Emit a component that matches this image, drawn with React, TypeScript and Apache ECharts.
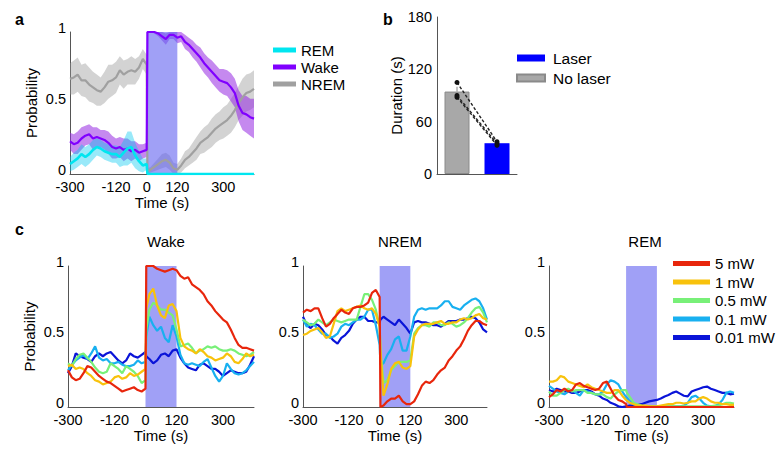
import React, { useEffect, useRef } from 'react';
import * as echarts from 'echarts';

// time grid (s), laser window
const T = [-300,-285,-270,-255,-240,-225,-210,-195,-180,-165,-150,-135,-120,-105,-90,-75,-60,-45,-30,-15,0,3,15,30,45,60,75,90,105,120,135,150,165,180,195,210,225,240,255,270,285,300,315,330,345,360,375,390,405,420];
const laserWindow = [0, 120];
const xTickLabels = [-300, -120, 0, 120, 300];

// panel a: mean +/- sem
const wakeMean = [0.23,0.21,0.22,0.25,0.27,0.28,0.25,0.26,0.25,0.24,0.22,0.19,0.18,0.19,0.17,0.18,0.16,0.17,0.15,0.16,0.17,1.0,1.0,1.0,0.99,0.97,0.95,0.98,0.98,0.96,0.97,0.93,0.91,0.88,0.85,0.82,0.78,0.75,0.72,0.69,0.66,0.65,0.64,0.61,0.57,0.48,0.43,0.42,0.40,0.39];
const wakeSem = [0.06,0.07,0.08,0.08,0.07,0.07,0.08,0.07,0.06,0.07,0.08,0.08,0.07,0.07,0.08,0.07,0.07,0.06,0.06,0.05,0.05,0.01,0.0,0.01,0.02,0.03,0.04,0.03,0.03,0.04,0.04,0.05,0.05,0.06,0.06,0.07,0.07,0.07,0.08,0.08,0.08,0.09,0.09,0.1,0.1,0.11,0.12,0.13,0.13,0.14];
const nremMean = [0.67,0.68,0.70,0.66,0.66,0.63,0.61,0.59,0.58,0.61,0.65,0.66,0.68,0.73,0.70,0.72,0.73,0.72,0.75,0.81,0.77,0.02,0.03,0.05,0.07,0.09,0.10,0.08,0.04,0.03,0.06,0.10,0.12,0.15,0.18,0.22,0.24,0.26,0.29,0.32,0.34,0.36,0.38,0.41,0.45,0.50,0.54,0.57,0.58,0.60];
const nremSem = [0.11,0.12,0.12,0.11,0.12,0.12,0.11,0.11,0.10,0.11,0.12,0.11,0.11,0.10,0.10,0.09,0.10,0.09,0.08,0.07,0.07,0.02,0.02,0.03,0.04,0.05,0.05,0.05,0.04,0.04,0.05,0.06,0.06,0.07,0.08,0.08,0.09,0.09,0.1,0.1,0.1,0.11,0.11,0.12,0.12,0.12,0.13,0.13,0.13,0.13];
const remMean = [0.07,0.09,0.11,0.14,0.12,0.14,0.17,0.19,0.18,0.16,0.15,0.14,0.14,0.12,0.15,0.18,0.19,0.13,0.09,0.06,0.07,0,0,0,0,0,0,0,0,0,0,0,0,0,0,0,0,0,0,0,0,0,0,0,0,0,0,0,0,0];
const remSem = [0.05,0.06,0.06,0.07,0.07,0.07,0.07,0.06,0.06,0.06,0.06,0.06,0.06,0.07,0.09,0.12,0.11,0.09,0.07,0.05,0.04,0,0,0,0,0,0,0,0,0,0,0,0,0,0,0,0,0,0,0,0,0,0,0,0,0,0,0,0,0];

// panel b
const barCategories = ['No laser', 'Laser'];
const barNoLaser = 94.5;
const barLaser = 35.3;
const barNoLaserErr = 5.5;
const pairsNoLaser = [105, 90, 88];
const pairsLaser = [37, 35, 33];

// panel c: laser power series
const powerNames = ['5 mW', '1 mW', '0.5 mW', '0.1 mW', '0.01 mW'];
const wake5 = [0.26,0.21,0.19,0.20,0.24,0.29,0.28,0.25,0.22,0.20,0.18,0.17,0.15,0.13,0.11,0.12,0.13,0.14,0.12,0.11,0.13,1.0,1.0,1.0,0.98,0.97,0.96,0.97,0.98,0.97,0.93,0.91,0.92,0.87,0.85,0.83,0.80,0.75,0.72,0.68,0.65,0.62,0.60,0.55,0.49,0.44,0.42,0.42,0.41,0.40];
const wake1 = [0.29,0.30,0.27,0.28,0.27,0.24,0.22,0.19,0.18,0.16,0.17,0.18,0.21,0.22,0.20,0.21,0.24,0.22,0.23,0.25,0.27,0.70,0.80,0.84,0.72,0.65,0.63,0.72,0.73,0.68,0.49,0.43,0.41,0.40,0.38,0.41,0.39,0.36,0.35,0.33,0.34,0.35,0.38,0.36,0.32,0.31,0.34,0.38,0.36,0.37];
const wake05 = [0.31,0.29,0.34,0.37,0.38,0.35,0.32,0.28,0.25,0.24,0.25,0.31,0.29,0.27,0.24,0.29,0.27,0.25,0.22,0.17,0.19,0.55,0.69,0.74,0.72,0.69,0.69,0.67,0.65,0.55,0.43,0.44,0.45,0.42,0.38,0.40,0.41,0.43,0.42,0.43,0.41,0.40,0.40,0.41,0.40,0.38,0.37,0.36,0.37,0.39];
const wake01 = [0.26,0.30,0.33,0.35,0.37,0.34,0.38,0.43,0.35,0.33,0.34,0.31,0.31,0.32,0.30,0.29,0.29,0.30,0.33,0.31,0.32,0.50,0.64,0.58,0.54,0.57,0.49,0.46,0.58,0.50,0.37,0.31,0.30,0.31,0.30,0.29,0.32,0.34,0.28,0.22,0.18,0.22,0.31,0.27,0.24,0.23,0.24,0.26,0.29,0.32];
const wake001 = [0.24,0.29,0.38,0.36,0.35,0.34,0.32,0.36,0.38,0.36,0.38,0.39,0.36,0.33,0.31,0.33,0.38,0.36,0.35,0.37,0.39,0.36,0.34,0.31,0.33,0.37,0.38,0.36,0.40,0.41,0.35,0.31,0.28,0.27,0.26,0.30,0.31,0.29,0.27,0.27,0.25,0.22,0.24,0.26,0.25,0.24,0.24,0.25,0.30,0.36];
const nrem5 = [0.67,0.69,0.68,0.70,0.70,0.63,0.57,0.59,0.63,0.66,0.69,0.67,0.66,0.70,0.71,0.71,0.72,0.74,0.81,0.83,0.78,0.0,0.01,0.04,0.06,0.06,0.08,0.04,0.02,0.02,0.04,0.09,0.15,0.18,0.17,0.19,0.23,0.26,0.28,0.33,0.36,0.40,0.43,0.48,0.54,0.58,0.61,0.61,0.59,0.58];
const nrem1 = [0.51,0.52,0.54,0.55,0.56,0.53,0.49,0.50,0.59,0.68,0.70,0.68,0.69,0.70,0.71,0.72,0.70,0.69,0.70,0.66,0.57,0.40,0.08,0.16,0.27,0.31,0.32,0.28,0.27,0.29,0.50,0.55,0.58,0.59,0.59,0.59,0.60,0.61,0.59,0.59,0.60,0.60,0.62,0.63,0.62,0.63,0.65,0.66,0.63,0.62];
const nrem05 = [0.62,0.60,0.58,0.59,0.62,0.60,0.58,0.60,0.62,0.61,0.60,0.61,0.62,0.62,0.62,0.71,0.80,0.80,0.76,0.69,0.57,0.40,0.17,0.19,0.26,0.29,0.32,0.32,0.32,0.33,0.52,0.56,0.58,0.58,0.57,0.60,0.60,0.58,0.58,0.60,0.59,0.57,0.58,0.60,0.63,0.67,0.70,0.71,0.67,0.60];
const nrem01 = [0.62,0.57,0.59,0.58,0.55,0.52,0.52,0.49,0.50,0.52,0.57,0.59,0.58,0.60,0.62,0.62,0.64,0.69,0.69,0.58,0.44,0.30,0.31,0.37,0.41,0.48,0.50,0.40,0.40,0.50,0.64,0.69,0.70,0.69,0.70,0.70,0.70,0.72,0.75,0.75,0.71,0.70,0.69,0.72,0.74,0.76,0.77,0.75,0.70,0.62];
const nrem001 = [0.64,0.58,0.56,0.59,0.58,0.55,0.51,0.50,0.47,0.45,0.49,0.51,0.54,0.59,0.62,0.64,0.64,0.61,0.61,0.60,0.60,0.62,0.64,0.62,0.60,0.58,0.62,0.59,0.56,0.52,0.60,0.61,0.60,0.60,0.59,0.58,0.58,0.57,0.59,0.61,0.61,0.61,0.62,0.62,0.63,0.64,0.63,0.60,0.55,0.53];
const rem5 = [0.07,0.09,0.12,0.11,0.13,0.11,0.12,0.16,0.17,0.15,0.14,0.13,0.12,0.13,0.17,0.18,0.13,0.08,0.05,0.04,0.02,0,0,0,0,0,0,0,0,0,0,0,0,0,0,0,0,0,0,0,0,0,0,0,0,0,0,0,0,0];
const rem1 = [0.18,0.18,0.19,0.22,0.21,0.18,0.17,0.16,0.15,0.14,0.16,0.14,0.13,0.12,0.11,0.10,0.10,0.12,0.12,0.08,0.05,0.045,0.03,0.02,0.01,0.01,0.01,0.005,0.005,0.005,0.01,0.015,0.02,0.02,0.03,0.03,0.025,0.03,0.04,0.04,0.06,0.07,0.06,0.04,0.03,0.03,0.02,0.02,0.015,0.015];
const rem05 = [0.11,0.08,0.08,0.10,0.12,0.13,0.11,0.12,0.12,0.12,0.10,0.10,0.09,0.09,0.09,0.07,0.06,0.09,0.11,0.12,0.12,0.10,0.07,0.03,0.02,0.01,0.005,0.005,0.005,0.005,0.005,0.005,0.005,0.005,0.005,0.005,0.005,0.005,0.005,0.005,0.005,0.005,0.005,0.005,0.01,0.01,0.02,0.03,0.03,0.025];
const rem01 = [0.15,0.13,0.11,0.10,0.09,0.11,0.12,0.10,0.08,0.12,0.11,0.10,0.09,0.09,0.11,0.16,0.19,0.18,0.16,0.11,0.07,0.065,0.04,0.02,0.01,0.005,0.005,0.005,0.005,0.005,0.005,0.005,0.005,0.005,0.005,0.005,0.01,0.03,0.07,0.08,0.06,0.03,0.01,0.005,0.005,0.02,0.05,0.10,0.11,0.10];
const rem001 = [0.12,0.11,0.13,0.12,0.11,0.11,0.10,0.10,0.11,0.12,0.12,0.11,0.09,0.08,0.06,0.05,0.03,0.02,0.005,0.0,0.005,0.005,0.01,0.01,0.015,0.02,0.03,0.04,0.045,0.05,0.06,0.075,0.085,0.10,0.11,0.095,0.08,0.075,0.11,0.12,0.13,0.14,0.145,0.13,0.12,0.11,0.10,0.10,0.09,0.095];

const FONT = "'Liberation Sans', Arial, Helvetica, sans-serif";
const stateColors = { REM: '#00e6f0', Wake: '#8000ff', NREM: '#a0a0a0' };
const bandColors = { REM: 'rgba(0,200,240,0.4)', Wake: 'rgba(150,40,225,0.55)', NREM: 'rgba(150,150,150,0.42)' };
const powerColors = ['#e8260c', '#f8c20c', '#78f078', '#18b0f0', '#0a14d8'];
const laserColor = 'rgba(97,97,240,0.6)';

const grids = [
  { left: 70, top: 32, width: 184, height: 142 },
  { left: 437, top: 17, width: 80, height: 157 },
  { left: 68, top: 266, width: 186, height: 141 },
  { left: 303, top: 266, width: 184, height: 141 },
  { left: 549, top: 266, width: 185, height: 141 },
];

const axisLine = { show: true, lineStyle: { color: '#555', width: 1 } };
const tickText = { color: '#000', fontSize: 14.5, fontFamily: FONT };

function timeAxis(gi: number, named: boolean) {
  return {
    type: 'value', gridIndex: gi, min: -300, max: 420, interval: 60,
    axisLine: { ...axisLine, onZero: false }, axisTick: { show: false }, splitLine: { show: false },
    axisLabel: { ...tickText, margin: 5, formatter: (v: number) => (xTickLabels.indexOf(v) >= 0 ? String(v) : '') },
    name: named ? 'Time (s)' : '', nameLocation: 'middle', nameGap: 14,
    nameTextStyle: { color: '#000', fontSize: 15, fontFamily: FONT },
  };
}
function probAxis(gi: number, named: boolean) {
  return {
    type: 'value', gridIndex: gi, min: 0, max: 1, interval: 0.5,
    axisLine: { ...axisLine, onZero: false }, axisTick: { show: false }, splitLine: { show: false },
    axisLabel: { ...tickText, margin: 4, verticalAlign: 'bottom', lineHeight: 9 },
    name: named ? 'Probability' : '', nameLocation: 'middle', nameGap: 31,
    nameTextStyle: { color: '#000', fontSize: 15, fontFamily: FONT },
  };
}

function laserSeries(gi: number) {
  return {
    type: 'custom', xAxisIndex: gi, yAxisIndex: gi, z: 2, silent: true,
    data: [[laserWindow[0], laserWindow[1]]],
    renderItem: (_p: any, api: any) => {
      const p0 = api.coord([api.value(0), 1]);
      const p1 = api.coord([api.value(1), 0]);
      return { type: 'rect', shape: { x: p0[0], y: p0[1], width: p1[0] - p0[0], height: p1[1] - p0[1] }, style: { fill: laserColor } };
    },
  };
}

function bandSeries(gi: number, mean: number[], sem: number[], color: string) {
  return {
    type: 'custom', xAxisIndex: gi, yAxisIndex: gi, z: 1, silent: true,
    data: [[0, 0]],
    renderItem: (_p: any, api: any) => {
      const upper = T.map((t, i) => api.coord([t, Math.min(1, mean[i] + sem[i])]));
      const lower = T.map((t, i) => api.coord([t, Math.max(0, mean[i] - sem[i])])).reverse();
      return { type: 'polygon', shape: { points: upper.concat(lower) }, style: { fill: color } };
    },
  };
}

function lineSeries(gi: number, name: string, values: number[], color: string, width = 2) {
  return {
    type: 'line', name, xAxisIndex: gi, yAxisIndex: gi, z: 3, silent: true,
    data: T.map((t, i) => [t, values[i]]),
    showSymbol: false, symbol: 'none', color,
    lineStyle: { color, width },
  };
}

export default function App() {
  const ref = useRef<HTMLDivElement>(null);
  useEffect(() => {
    const chart = echarts.init(ref.current!, null, { renderer: 'svg' });
    const wakeSets = [wake5, wake1, wake05, wake01, wake001];
    const nremSets = [nrem5, nrem1, nrem05, nrem01, nrem001];
    const remSets = [rem5, rem1, rem05, rem01, rem001];
    const powerSeries: any[] = [];
    [wakeSets, nremSets, remSets].forEach((sets, k) => {
      const gi = k + 2;
      powerSeries.push(laserSeries(gi));
      for (let j = sets.length - 1; j >= 0; j--) {
        powerSeries.push(lineSeries(gi, powerNames[j], sets[j], powerColors[j], 2.2));
      }
    });

    const option: any = {
      animation: false,
      textStyle: { fontFamily: FONT },
      title: [
        { text: 'a', left: 10, top: 6, textStyle: { fontSize: 16, fontWeight: 'bold', color: '#000', fontFamily: FONT } },
        { text: 'b', left: 378, top: 6, textStyle: { fontSize: 16, fontWeight: 'bold', color: '#000', fontFamily: FONT } },
        { text: 'c', left: 10, top: 216, textStyle: { fontSize: 16, fontWeight: 'bold', color: '#000', fontFamily: FONT } },
        { text: 'Wake', left: 161, top: 229, textAlign: 'center', textStyle: { fontSize: 15, fontWeight: 'normal', color: '#000', fontFamily: FONT } },
        { text: 'NREM', left: 395, top: 229, textAlign: 'center', textStyle: { fontSize: 15, fontWeight: 'normal', color: '#000', fontFamily: FONT } },
        { text: 'REM', left: 640, top: 229, textAlign: 'center', textStyle: { fontSize: 15, fontWeight: 'normal', color: '#000', fontFamily: FONT } },
      ],
      legend: [
        {
          data: ['REM', 'Wake', 'NREM'], orient: 'vertical', left: 273, top: 42.5, padding: 0,
          itemWidth: 23, itemHeight: 5, itemGap: 2, icon: 'rect', selectedMode: false,
          textStyle: { fontSize: 15, color: '#000', fontFamily: FONT },
        },
        {
          data: ['Laser', 'No laser'], orient: 'vertical', left: 516, top: 50, padding: 0,
          itemWidth: 28, itemHeight: 7, itemGap: 4, icon: 'rect', selectedMode: false,
          textStyle: { fontSize: 15.5, color: '#000', fontFamily: FONT, padding: [0, 0, 0, 3] },
        },
        {
          data: powerNames, orient: 'vertical', left: 673, top: 256, padding: 0,
          itemWidth: 37, itemHeight: 5, itemGap: 3.5, icon: 'rect', selectedMode: false,
          textStyle: { fontSize: 15, color: '#000', fontFamily: FONT },
        },
      ],
      grid: grids,
      xAxis: [
        timeAxis(0, true),
        {
          type: 'category', gridIndex: 1, data: barCategories,
          axisLine: { ...axisLine }, axisTick: { show: false }, axisLabel: { show: false },
        },
        timeAxis(2, true),
        timeAxis(3, true),
        timeAxis(4, true),
      ],
      yAxis: [
        probAxis(0, true),
        {
          type: 'value', gridIndex: 1, min: 0, max: 180, interval: 60,
          axisLine: { ...axisLine, onZero: false }, axisTick: { show: false }, splitLine: { show: false },
          axisLabel: { ...tickText, margin: 5 },
          name: 'Duration (s)', nameLocation: 'middle', nameGap: 33,
          nameTextStyle: { color: '#000', fontSize: 15, fontFamily: FONT },
        },
        probAxis(2, true),
        probAxis(3, false),
        probAxis(4, false),
      ],
      series: [
        bandSeries(0, nremMean, nremSem, bandColors.NREM),
        bandSeries(0, wakeMean, wakeSem, bandColors.Wake),
        bandSeries(0, remMean, remSem, bandColors.REM),
        laserSeries(0),
        lineSeries(0, 'NREM', nremMean, stateColors.NREM, 2.2),
        lineSeries(0, 'Wake', wakeMean, stateColors.Wake, 2.2),
        lineSeries(0, 'REM', remMean, stateColors.REM, 2.6),
        {
          type: 'bar', name: 'No laser', xAxisIndex: 1, yAxisIndex: 1, barWidth: 25, barGap: '-100%',
          data: [barNoLaser, '-'], color: '#a8a8a8',
          itemStyle: { color: '#a8a8a8', borderColor: '#8a8a8a', borderWidth: 1 }, silent: true,
        },
        {
          type: 'bar', name: 'Laser', xAxisIndex: 1, yAxisIndex: 1, barWidth: 25, barGap: '-100%',
          data: ['-', barLaser], color: '#0000ff',
          itemStyle: { color: '#0000ff' }, silent: true,
        },
        {
          type: 'custom', xAxisIndex: 1, yAxisIndex: 1, z: 3, silent: true,
          data: [[0, barNoLaser, barNoLaser + barNoLaserErr]],
          renderItem: (_p: any, api: any) => {
            const a = api.coord([api.value(0), api.value(1)]);
            const b = api.coord([api.value(0), api.value(2)]);
            return { type: 'line', shape: { x1: a[0], y1: a[1], x2: b[0], y2: b[1] }, style: { stroke: '#888', lineWidth: 1 } };
          },
        },
        ...pairsNoLaser.map((v, i) => ({
          type: 'line', name: 'pair' + i, xAxisIndex: 1, yAxisIndex: 1, z: 4, silent: true,
          data: [v, pairsLaser[i]], symbol: 'circle', symbolSize: 5, showSymbol: true,
          color: '#111', itemStyle: { color: '#111' },
          lineStyle: { color: '#222', width: 1.4, type: [3, 2] },
        })),
        ...powerSeries,
      ],
    };
    chart.setOption(option);
    return () => chart.dispose();
  }, []);
  return <div ref={ref} style={{ position: 'absolute', left: 0, top: 0, width: 783, height: 449 }} />;
}
